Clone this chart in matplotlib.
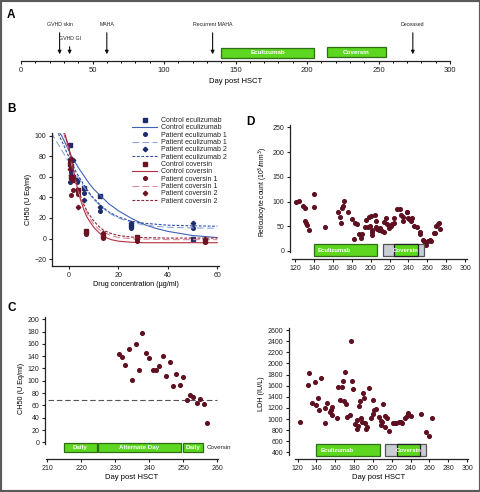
import numpy as np
import matplotlib.pyplot as plt
from matplotlib.patches import Rectangle

plt.rcParams['font.family'] = ['Liberation Sans', 'DejaVu Sans']
NARROW = ['Liberation Sans Narrow', 'Liberation Sans', 'DejaVu Sans']

# ---------------- data ----------------
# panel A timeline
event_labels = ['GVHD skin', 'GVHD GI', 'MAHA', 'Recurrent MAHA', 'Deceased']
event_days = [27, 34, 60, 134, 274]
ecu_period = (140, 205)
cov_period = (214, 255)

# panel B: CH50 vs drug concentration
ecu_conc = [0.39, 0.78, 1.56, 3.125, 6.25, 12.5, 25, 50]
ecu_control = [91, 70, 60, 57, 49, 41, 12, 0]
ecu_patient1 = [55, 65, 58, 55, 44, 27, 10, 10]
ecu_patient2 = [77, 62, 76, 56, 37, 31, 15, 15]
cov_conc = [0.43, 0.86, 1.72, 3.44, 6.875, 13.75, 27.5, 55]
cov_control = [72, 60, 57, 47, 7, 3, 2, -2]
cov_patient1 = [75, 42, 47, 43, 4, 1, -2, -3]
cov_patient2 = [68, 77, 60, 31, 5, 5, 0, 0]

# fitted curves
ecu_fit_x = [-7, -6.5, -5, -4, -3, -2, -1, 0, 1, 2, 3, 4, 6, 8, 10, 13, 16, 20, 25, 30, 35, 40, 50, 60]
ecu_fit_control = [112, 110, 106, 103, 100, 95, 90, 85, 80, 76, 72, 68, 61, 54, 48, 41, 34, 27, 20, 14, 10, 7, 3, 1]
ecu_fit_patient1 = [103, 100, 94, 90, 86, 82, 78, 74, 70, 66, 62, 58, 50, 44, 38, 31, 25, 20, 16, 13.5, 12, 11, 10.4, 10]
ecu_fit_patient2 = [118, 114, 107, 100, 95, 90, 84, 79, 74, 69, 64, 60, 52, 45, 39, 32, 26, 21, 17, 15, 14, 13, 12.4, 12]
cov_fit_x = [-3, -2, -1.5, -1, -0.5, 0, 0.5, 1, 1.5, 2, 3, 4, 5, 6, 7, 8, 10, 12, 14, 17, 20, 25, 30, 40, 60]
cov_fit_control = [115, 104, 100, 96, 92, 88, 82, 76, 70, 64, 53, 43, 35, 28, 22, 18, 11, 6, 2, -1, -2.5, -3.5, -4, -4, -4]
cov_fit_patient1 = [112, 101, 97, 93, 89, 85, 79, 73, 67, 62, 52, 44, 37, 31, 26, 21, 14, 9, 6, 3, 1, 0, -0.5, -1, -1]
cov_fit_patient2 = [113, 103, 99, 95, 91, 87, 81, 75, 69, 64, 54, 46, 39, 33, 28, 24, 17, 12, 8, 5, 3, 1.5, 1, 0.5, 0.5]

# panel C: CH50 during coversin
c_days = [231, 232, 233, 234, 235, 236, 237, 238, 239, 240, 241, 242, 243, 244,
          245, 246, 247, 248, 249, 250, 251, 252, 253, 254, 255, 256, 257]
c_ch50 = [143, 138, 125, 152, 102, 160, 117, 177, 146, 137, 118, 118, 124, 140,
          108, 131, 91, 111, 93, 106, 69, 77, 74, 64, 71, 63, 32]
c_threshold = 68
c_blocks = [(215, 224.6, 'Daily'), (225, 249.3, 'Alternate Day'), (250, 255.7, 'Daily')]

# panel D: reticulocytes
d_days = [121, 124, 128, 131, 131, 132, 133, 135, 140, 140, 152, 165, 168, 169, 170, 171,
          172, 176, 180, 182, 184, 186, 188, 190, 191, 194, 195, 197, 198, 199, 200, 201,
          202, 202, 205, 206, 206, 207, 209, 210, 212, 214, 214, 216, 217, 219, 220, 222,
          223, 225, 225, 228, 231, 232, 234, 234, 238, 238, 240, 241, 243, 244, 246, 249,
          252, 252, 255, 256, 258, 259, 261, 263, 264, 267, 268, 269, 271, 272, 273]
d_retic = [99, 101, 92, 88, 61, 57, 53, 42, 116, 89, 49, 78, 68, 57, 88, 92,
           101, 78, 65, 24, 57, 54, 35, 26, 35, 49, 63, 49, 68, 51, 70, 38,
           43, 33, 72, 61, 49, 44, 43, 46, 40, 39, 59, 66, 55, 46, 50, 51,
           54, 66, 56, 86, 85, 72, 69, 61, 79, 78, 66, 64, 60, 66, 50, 48,
           38, 34, 23, 21, 15, 13, 20, 22, 20, 37, 36, 51, 54, 57, 45]

# panel E: LDH
e_days = [122, 130.5, 132, 135, 138, 140, 142, 142.5, 144.6, 148.8, 149.5, 151.6, 154, 155,
          156, 157, 162, 163, 165, 166.7, 168, 169, 170, 171.6, 172.6, 175.4, 176.5, 178,
          179, 181, 183, 183.5, 184.6, 185, 186, 187, 188.4, 189.5, 190.5, 191, 193, 194,
          195.4, 198, 199.5, 200.4, 201, 203, 206.7, 208, 209, 210, 210.5, 212.6, 213,
          214.7, 216.8, 221, 222.5, 224, 228, 230, 231.2, 234.4, 236, 237.5, 240, 251,
          255.8, 259, 262.5]
e_ldh = [944, 1613, 1823, 1297, 1673, 1249, 1374, 1165, 1733, 1195, 920, 1291, 1123, 1165,
         1225, 1075, 1016, 1577, 1338, 1577, 1679, 1332, 1852, 1279, 1028, 1069, 2408, 1691,
         1548, 902, 980, 824, 878, 1237, 1320, 1016, 944, 1476, 1386, 920, 818, 860,
         1566, 1016, 1087, 1344, 1159, 1177, 1028, 962, 890, 950, 1273, 1046, 860,
         1010, 794, 932, 926, 932, 950, 944, 926, 1016, 1052, 1117, 1058, 1093,
         776, 687, 1016]

# treatment bars under D and E
de_ecu = (140, 207)
de_cov_outer = (213, 256)
de_cov_inner = (225, 250)

GREEN = '#5cd61f'
GREEN_EDGE = '#2f6e14'
GREY_BOX = '#c9cdd5'
DOT = '#5e1020'
BLUE_MK = '#1f2c6c'
RED_MK = '#6a1423'

W, H = 481, 492
fig = plt.figure(figsize=(W / 100, H / 100), dpi=100)


def px_axes(x0, y0, x1, y1):
    return fig.add_axes([x0 / W, 1 - y1 / H, (x1 - x0) / W, (y1 - y0) / H])


def style(ax, fs=5):
    ax.spines['top'].set_visible(False)
    ax.spines['right'].set_visible(False)
    for s in ('left', 'bottom'):
        ax.spines[s].set_linewidth(0.9)
        ax.spines[s].set_color('#222222')
    ax.tick_params(axis='both', labelsize=fs, length=2.5, width=0.8, pad=1.5, colors='#222222')
    ax.patch.set_alpha(0)


def bar(ax, x0, x1, y0, y1, text, face=GREEN, edge=GREEN_EDGE, fs=4.5, ha='center'):
    ax.add_patch(Rectangle((x0, y0), x1 - x0, y1 - y0, facecolor=face, edgecolor=edge,
                           linewidth=0.9, clip_on=False, zorder=3))
    if text:
        xt = (x0 + x1) / 2 if ha == 'center' else x0 + (x1 - x0) * 0.06
        ax.text(xt, (y0 + y1) / 2, text, color='white', fontsize=fs, fontweight='bold',
                ha=ha, va='center', zorder=4, clip_on=False)


# ---------------- panel A ----------------
axA = px_axes(21, 21, 450, 61)
axA.set_xlim(0, 300)
axA.set_ylim(0, 10)
style(axA, fs=5.5)
axA.spines['left'].set_visible(False)
axA.set_yticks([])
axA.set_xticks(range(0, 301, 50))
axA.set_xticks(range(0, 301, 10), minor=True)
axA.tick_params(axis='x', which='minor', length=1.5, width=0.7)
axA.set_xlabel('Day post HSCT', fontsize=5.5, family=NARROW, labelpad=3)
for lab, d in zip(event_labels, event_days):
    top = 4.25 if lab == 'GVHD GI' else 7.75
    ly = 5.6 if lab == 'GVHD GI' else 9.2
    axA.annotate('', xy=(d, 1.0), xytext=(d, top),
                 arrowprops=dict(arrowstyle='-|>', color='#111111', lw=0.8, mutation_scale=5))
    axA.text(d, ly, lab, fontsize=3.8, ha='center', va='center', color='#222222')
bar(axA, ecu_period[0], ecu_period[1], 0.75, 3.25, 'Eculizumab', fs=4.5)
bar(axA, cov_period[0], cov_period[1], 1.0, 3.5, 'Coversin', fs=4.5)

# ---------------- panel B ----------------
axB = px_axes(52, 133, 219, 266)
style(axB)
axB.set_xlim(-6.9, 60.7)
axB.set_ylim(-26.6, 102.5)
axB.set_xticks([0, 20, 40, 60])
axB.set_yticks(range(-20, 101, 20))
axB.set_xlabel('Drug concentration (\u00b5g/ml)', fontsize=5.2, family=NARROW, labelpad=2)
axB.set_ylabel('CH50 (U Eq/ml)', fontsize=5.2, family=NARROW, labelpad=2)

long_dash = (0, (6, 3))
short_dash = (0, (2.5, 1.5))
h = []
h.append(axB.plot(ecu_conc, ecu_control, 's', color=BLUE_MK, ms=2.6, ls='none')[0])
h.append(axB.plot(ecu_fit_x, ecu_fit_control, color='#4062b4', lw=0.8)[0])
h.append(axB.plot(ecu_conc, ecu_patient1, 'o', color=BLUE_MK, ms=2.6, ls='none')[0])
h.append(axB.plot(ecu_fit_x, ecu_fit_patient1, color='#8aa5dc', lw=0.8, ls=long_dash)[0])
h.append(axB.plot(ecu_conc, ecu_patient2, 'D', color=BLUE_MK, ms=2.3, ls='none')[0])
h.append(axB.plot(ecu_fit_x, ecu_fit_patient2, color='#2e4ea6', lw=0.8, ls=short_dash)[0])
h.append(axB.plot(cov_conc, cov_control, 's', color=RED_MK, ms=2.6, ls='none')[0])
h.append(axB.plot(cov_fit_x, cov_fit_control, color='#b5303f', lw=0.8)[0])
h.append(axB.plot(cov_conc, cov_patient1, 'o', color=RED_MK, ms=2.6, ls='none')[0])
h.append(axB.plot(cov_fit_x, cov_fit_patient1, color='#d98a9a', lw=0.8, ls=long_dash)[0])
h.append(axB.plot(cov_conc, cov_patient2, 'D', color=RED_MK, ms=2.3, ls='none')[0])
h.append(axB.plot(cov_fit_x, cov_fit_patient2, color='#8f2238', lw=0.8, ls=short_dash)[0])
labels = ['Control eculizumab', 'Control eculizumab', 'Patient eculizumab 1', 'Patient eculizumab 1',
          'Patient eculizumab 2', 'Patient eculizumab 2', 'Control coversin', 'Control coversin',
          'Patient coversin 1', 'Patient coversin 1', 'Patient coversin 2', 'Patient coversin 2']
fig.legend(h, labels, loc='upper left', bbox_to_anchor=(132 / W, 1 - 117 / H),
           bbox_transform=fig.transFigure, frameon=False, fontsize=5, handlelength=3.6,
           handletextpad=0.6, labelspacing=0.05, borderpad=0, borderaxespad=0,
           labelcolor='#222222')

# ---------------- panel C ----------------
axC = px_axes(45, 317, 219, 459)
style(axC)
axC.set_xlim(209.4, 260.5)
axC.set_ylim(-27.1, 203.7)
axC.spines['left'].set_bounds(-3, 203)
axC.spines['bottom'].set_bounds(209.6, 260.2)
axC.set_xticks(range(210, 261, 10))
axC.set_yticks(range(0, 201, 20))
axC.scatter(c_days, c_ch50, s=7, color=DOT, zorder=3)
axC.axhline(c_threshold, xmin=0.02, xmax=0.99, color='#555555', lw=0.8, ls=(0, (5, 2.5)))
for x0, x1, t in c_blocks:
    bar(axC, x0, x1, -16, -1, t, fs=4.5)
axC.text(257, -8.5, 'Coversin', fontsize=4.5, va='center', ha='left', color='#222222')
axC.set_xlabel('Day post HSCT', fontsize=5.5, family=NARROW, labelpad=2)
axC.set_ylabel('CH50 (U Eq/ml)', fontsize=5.2, family=NARROW, labelpad=2)

# ---------------- panel D ----------------
axD = px_axes(290, 125, 467, 259)
style(axD)
axD.set_xlim(114.7, 302)
axD.set_ylim(-16.2, 255)
axD.spines['left'].set_bounds(-1.5, 255)
axD.spines['bottom'].set_bounds(116.5, 301.8)
axD.set_xticks(range(120, 301, 20))
axD.set_yticks(range(0, 251, 50))
axD.scatter(d_days, d_retic, s=7, color=DOT, zorder=3)
bar(axD, de_ecu[0], de_ecu[1], -10, 14, 'Eculizumab', fs=4.3, ha='left')
bar(axD, de_cov_outer[0], de_cov_outer[1], -10, 14, '', face=GREY_BOX, edge='#555555')
bar(axD, de_cov_inner[0], de_cov_inner[1], -10, 14, 'Coversin', fs=4.3, edge='#222222')
axD.set_ylabel('Reticulocyte count (10$^3$/mm$^3$)', fontsize=4.9, family=NARROW, labelpad=2)

# ---------------- panel E ----------------
axE = px_axes(289, 328, 469, 459)
style(axE)
axE.set_xlim(110.8, 302)
axE.set_ylim(282, 2636)
axE.spines['left'].set_bounds(360, 2636)
axE.spines['bottom'].set_bounds(117, 301)
axE.set_xticks(range(120, 301, 20))
axE.set_yticks(range(400, 2601, 200))
axE.scatter(e_days, e_ldh, s=7, color=DOT, zorder=3)
bar(axE, de_ecu[0], de_ecu[1], 330, 555, 'Eculizumab', fs=4.3, ha='left')
bar(axE, de_cov_outer[0], de_cov_outer[1], 330, 555, '', face=GREY_BOX, edge='#555555')
bar(axE, de_cov_inner[0], de_cov_inner[1], 330, 555, 'Coversin', fs=4.3, edge='#222222')
axE.set_xlabel('Day post HSCT', fontsize=5.5, family=NARROW, labelpad=2)
axE.set_ylabel('LDH (IU/L)', fontsize=5.2, family=NARROW, labelpad=2)

# panel letters
for lab, x, y in [('A', 7, 9), ('B', 7, 103), ('C', 7, 302), ('D', 246, 116)]:
    fig.text(x / W, 1 - y / H, lab, fontsize=8.5, fontweight='bold', va='top', ha='left')

# figure frame
fig.add_artist(Rectangle((0, 0), 1, 1, transform=fig.transFigure, fill=False,
                         edgecolor='#5a5a5a', linewidth=3))

fig.savefig('out.png', dpi=100)
